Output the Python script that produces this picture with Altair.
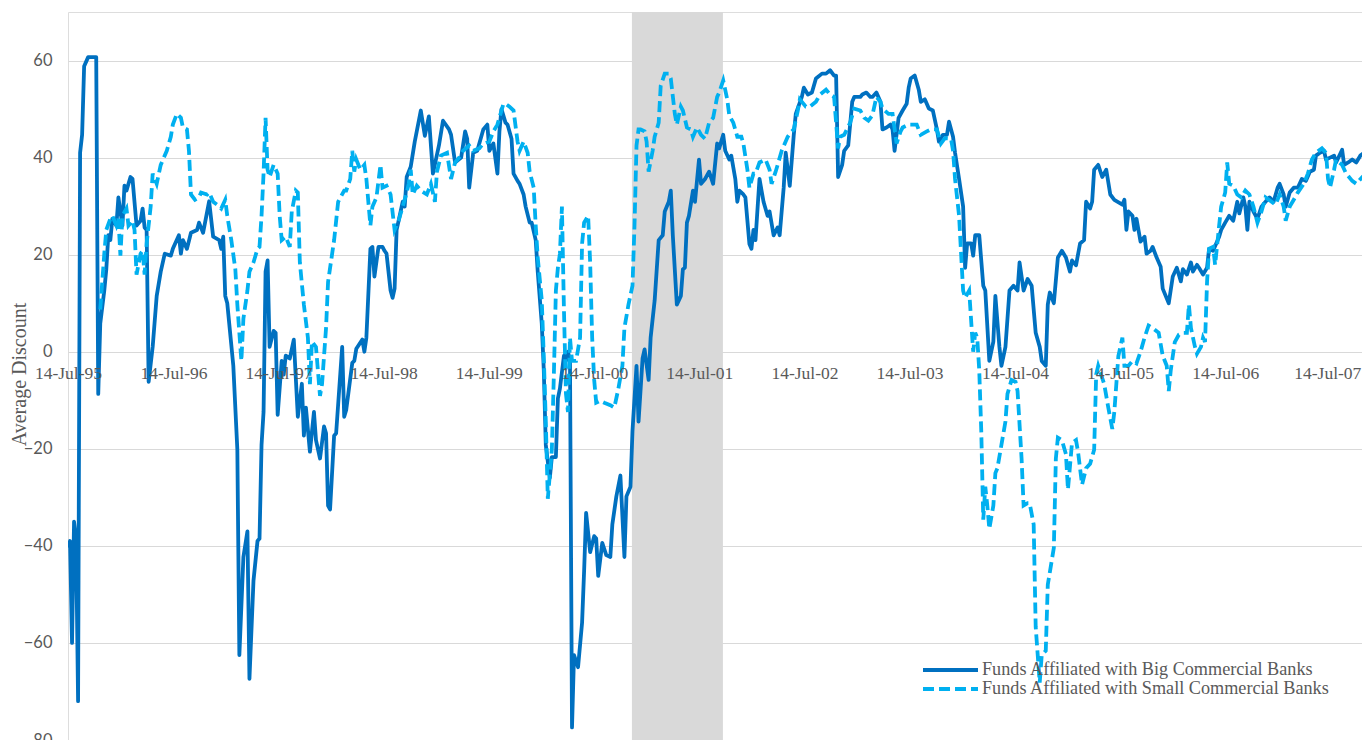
import altair as alt
import pandas as pd

# ---------------- data (weeks since 14-Jul-1995, average discount) ----------------
start_date = "1995-07-14"
axis_end_date = "2007-11-01"
recession_start = "2000-11-22"
recession_end = "2001-10-04"

big_name = "Funds Affiliated with Big Commercial Banks"
small_name = "Funds Affiliated with Small Commercial Banks"

big_weeks = [
    0, 1, 2, 3, 4, 5, 6, 7, 8, 10,
    14, 15, 16, 18, 19, 20, 21, 22, 24, 25,
    27, 28, 29, 31, 32, 34, 36, 37, 38, 39,
    40, 42, 44, 46, 48, 51, 52, 55, 56, 57,
    59, 61, 64, 65, 67, 70, 72, 75, 76, 77,
    78, 79, 81, 82, 84, 85, 87, 89, 90, 92,
    94, 95, 96, 97, 98, 99, 100, 102, 103, 104,
    106, 107, 108, 110, 112, 114, 116, 117, 118, 120,
    122, 123, 125, 127, 128, 129, 130, 132, 133, 136,
    137, 138, 141, 142, 143, 146, 147, 148, 150, 151,
    152, 154, 156, 157, 158, 160, 161, 162, 163, 165,
    166, 167, 168, 170, 172, 175, 177, 179, 181, 184,
    186, 189, 190, 192, 195, 197, 198, 199, 201, 203,
    206, 208, 209, 211, 213, 214, 215, 217, 218, 220,
    221, 223, 224, 226, 227, 229, 230, 232, 233, 235,
    236, 237, 239, 240, 242, 243, 244, 246, 247, 248,
    249, 250, 251, 253, 255, 256, 257, 259, 261, 262,
    263, 265, 267, 269, 270, 272, 274, 276, 277, 279,
    280, 282, 283, 285, 286, 288, 289, 291, 293, 295,
    296, 298, 299, 300, 302, 304, 305, 306, 307, 308,
    310, 311, 313, 314, 316, 318, 320, 322, 323, 325,
    326, 328, 329, 331, 332, 333, 335, 336, 338, 339,
    340, 341, 343, 345, 347, 348, 350, 352, 353, 355,
    356, 358, 360, 361, 364, 365, 367, 369, 371, 374,
    376, 378, 380, 381, 382, 384, 385, 387, 389, 390,
    393, 394, 396, 398, 399, 401, 403, 404, 406, 408,
    409, 410, 412, 414, 416, 417, 418, 420, 422, 423,
    425, 427, 429, 431, 432, 434, 436, 437, 439, 440,
    442, 444, 445, 446, 448, 449, 450, 452, 454, 455,
    457, 459, 460, 462, 463, 465, 467, 469, 471, 472,
    474, 476, 478, 480, 482, 483, 485, 486, 487, 489,
    491, 493, 495, 497, 498, 500, 502, 504, 505, 507,
    508, 509, 511, 513, 515, 517, 519, 523, 524, 525,
    526, 528, 529, 530, 532, 534, 535, 537, 538, 540,
    542, 543, 546, 548, 550, 552, 553, 555, 557, 558,
    560, 561, 563, 565, 566, 568, 571, 572, 574, 576,
    578, 580, 581, 583, 584, 585, 586, 588, 590, 592,
    594, 596, 598, 600, 601, 603, 604, 606, 608, 610,
    612, 614, 616, 618, 619, 621, 623, 624, 626, 628,
    629, 632, 633, 635, 637, 639, 641, 643, 645, 646,
]
big_values = [
    -40.4, -39, -60, -35, -38.5, -72, 41, 44.7, 58.8, 60.7,
    60.7, -8.7, 5.8, 12.6, 17, 24, 23, 27.4, 26, 31.8,
    26, 34.2, 33.2, 36, 35.6, 26, 27, 29.5, 25.6, 25.1,
    -6.2, 1, 11.5, 16.5, 20.2, 19.8, 21.2, 24, 20.2, 23,
    21.2, 24.5, 25.1, 26.6, 24.5, 31, 23.7, 23, 21.2, 23.7,
    11.5, 10, 1.4, -2.9, -20.2, -62.5, -42.3, -37, -67.4, -47.2,
    -39, -38.5, -19.2, -12.4, 16.5, 18.8, 1, 4.3, 3.9, -13,
    -1.9, -4.7, -0.8, -1.4, 2.5, -13.4, -6.6, -17.3, -11.5, -20.6,
    -12.4, -18.2, -22, -15.4, -16.8, -31.7, -32.5, -17.3, -16.8, 1,
    -13.4, -12, -2.3, -1.9, 0.6, 2.5, 0, 2.9, 21.2, 21.6,
    15.5, 21.6, 21.6, 20.8, 20.2, 12.6, 11.1, 13, 25.1, 28.9,
    30.9, 29.9, 36, 38.1, 43.3, 49.7, 44.5, 48.5, 36.7, 42.5,
    47.6, 45.8, 44.7, 39, 40, 45.4, 43.9, 33.8, 41, 41.4,
    45.8, 46.8, 41.4, 42.9, 36.7, 45.4, 50, 47.2, 46.8, 43.9,
    36.7, 35.2, 34.6, 32.4, 29.9, 26.6, 26.6, 23, 16.5, 5.8,
    -3.8, -19.2, -26, -21.7, -21.7, -9.6, -7.6, -0.8, -1.9, 0,
    -1.9, -77.4, -62.5, -65, -55.8, -45.2, -33.2, -41.3, -38, -38.5,
    -46.2, -39.4, -41.9, -42.3, -35.6, -29.8, -25.5, -42.3, -29.8, -27.8,
    -16.3, -2.9, -14.4, -1.4, 0.5, -5.8, 2.9, 10.6, 23, 24,
    28.9, 30.9, 33.2, 24, 9.7, 11.5, 17, 17.3, 26.6, 28,
    33.2, 30.9, 39.6, 34.6, 35.6, 37.1, 34.6, 42.9, 41.9, 44.7,
    41.4, 39.6, 40.4, 35.6, 30.9, 33.2, 32.4, 31.8, 22.2, 21.2,
    25.1, 23, 35.6, 30.9, 28, 28.9, 24, 25.6, 24, 33.8,
    41, 34.2, 44.7, 49, 52.5, 54.4, 53, 53.4, 56.3, 57.3,
    57.3, 58, 56.9, 56.9, 36, 38.5, 41.4, 42.5, 51.5, 52.5,
    52.5, 53, 53.4, 52.5, 52.5, 53.4, 51.5, 45.8, 46.2, 46.8,
    45.8, 41.4, 48.2, 49.7, 51.1, 54.4, 56.3, 56.9, 54, 51.5,
    52, 50.1, 49.7, 45.8, 43.3, 44.7, 44.7, 47.4, 44.3, 41,
    35.6, 29.9, 17.3, 22.3, 22.3, 19.8, 24, 24, 13.6, 12.6,
    -1.9, 2.1, 11.5, 1, -2.9, 1, 12.6, 13.6, 12.6, 18.4,
    12.6, 15, 13.6, 3.9, 1, -1.9, -2.9, 9.7, 12.2, 10,
    19.4, 20.8, 19.4, 16.5, 18.8, 17.8, 22.3, 23, 30.9, 29.5,
    30.9, 37.5, 38.5, 36, 37.5, 32.4, 31.3, 30.3, 31.3, 25.1,
    28.9, 28, 25.1, 27.4, 22.7, 23.7, 20.2, 20.8, 21.6, 19.4,
    17.5, 13, 10, 15.5, 17.3, 14.5, 17, 15.9, 18.4, 16.5,
    17.9, 17.3, 15.9, 17.3, 21.2, 20.8, 23.7, 25.1, 26.6, 28,
    27, 30.9, 28.5, 31.8, 29.9, 25.1, 30.9, 28.9, 27.4, 29.9,
    30.9, 31.8, 30.9, 33.8, 34.6, 32.4, 29.9, 32.8, 33.8, 33.8,
    35.6, 35.2, 37.1, 37.5, 40.4, 41, 41.4, 39.6, 40, 40.4,
    39, 41.6, 38.5, 39, 39.6, 39, 40.4, 41, 42.5, 43,
]

small_weeks = [
    16, 18, 19, 21, 22, 24, 25, 26, 27, 29,
    30, 32, 33, 34, 36, 37, 38, 39, 41, 42,
    44, 46, 49, 51, 52, 54, 56, 57, 59, 60,
    61, 63, 65, 66, 69, 70, 72, 74, 76, 78,
    79, 81, 83, 84, 86, 87, 89, 90, 92, 94,
    95, 96, 97, 98, 99, 100, 102, 104, 105, 106,
    108, 110, 111, 113, 114, 115, 117, 119, 120, 121,
    123, 125, 126, 128, 129, 132, 134, 137, 138, 140,
    141, 142, 143, 145, 147, 148, 150, 151, 153, 155,
    156, 158, 160, 162, 164, 166, 168, 169, 170, 171,
    173, 175, 178, 180, 182, 183, 185, 188, 190, 192,
    194, 196, 199, 201, 204, 206, 209, 211, 213, 216,
    217, 219, 221, 223, 224, 226, 228, 229, 231, 232,
    233, 235, 236, 237, 238, 240, 241, 242, 243, 244,
    245, 246, 247, 248, 249, 250, 252, 254, 255, 256,
    258, 259, 260, 261, 262, 264, 266, 269, 271, 273,
    275, 276, 278, 280, 281, 282, 283, 284, 286, 287,
    288, 290, 291, 293, 294, 296, 298, 299, 301, 302,
    304, 305, 307, 309, 310, 312, 314, 316, 318, 320,
    322, 323, 325, 327, 328, 330, 332, 334, 335, 337,
    338, 340, 341, 343, 346, 348, 349, 351, 352, 354,
    357, 359, 360, 362, 363, 366, 368, 371, 373, 376,
    378, 380, 382, 383, 385, 388, 390, 393, 395, 397,
    399, 401, 403, 404, 407, 409, 411, 413, 414, 417,
    419, 421, 423, 426, 428, 431, 433, 435, 438, 439,
    440, 442, 443, 444, 445, 447, 449, 450, 451, 452,
    453, 454, 455, 456, 457, 459, 460, 461, 463, 465,
    466, 468, 470, 471, 473, 474, 476, 477, 479, 480,
    482, 483, 485, 486, 489, 490, 491, 493, 495, 496,
    498, 500, 501, 503, 505, 507, 509, 510, 511, 514,
    516, 518, 519, 521, 523, 524, 526, 528, 530, 532,
    534, 536, 538, 541, 543, 545, 546, 547, 549, 551,
    553, 555, 556, 557, 559, 560, 562, 563, 564, 565,
    566, 568, 569, 571, 572, 574, 575, 576, 578, 580,
    582, 584, 586, 588, 590, 592, 594, 597, 599, 601,
    603, 604, 606, 608, 610, 613, 615, 617, 619, 622,
    624, 625, 626, 628, 629, 632, 634, 637, 639, 642,
    644, 646,
]
small_values = [
    8.7, 20.2, 25.1, 27.4, 28, 26, 27.4, 19.8, 28, 29.5,
    26, 27, 25.1, 15.9, 20.2, 20.8, 15.9, 22.3, 29.9, 36.7,
    34.6, 38.5, 41.4, 44.3, 46.8, 49, 48.2, 46.2, 45.8, 41.4,
    32.4, 31.3, 31.8, 32.8, 32.4, 32.8, 30.9, 30.3, 29.5, 31.3,
    28, 23, 17, 9.7, -1.9, 6.8, 12.6, 16.5, 18.4, 21.2,
    21.6, 28, 36.7, 48.2, 37.5, 36, 38.5, 36.7, 28, 23,
    23.7, 21.6, 28.9, 33.2, 32.8, 18.4, 9.7, 2.9, -6.7, 2.1,
    1, -9.1, -6.7, 4.9, 14.4, 23, 30.9, 33.2, 33.2, 35.6,
    41.4, 37.1, 39.6, 37.5, 38.5, 35.6, 26, 29.9, 31.8, 38.5,
    33.8, 34.2, 32.4, 25.1, 27, 29.9, 32.8, 34.6, 37.5, 32.4,
    34.2, 33.2, 32.4, 34.6, 30.9, 37.1, 40.4, 41, 35.6, 39,
    40, 41.4, 42.5, 41.4, 41.9, 42.9, 43.3, 45.4, 46.8, 51.1,
    51.1, 50.5, 49.7, 43.3, 41.4, 43.3, 41, 37.1, 33.8, 26,
    19.4, 10.6, -0.9, -14.4, -30.3, -20.2, -4.7, 12.6, 17.3, 20.2,
    29.9, 8.7, -8.7, -12.4, 2.9, -1.9, -1.9, 2.9, 22.3, 26.6,
    28, 18.4, 2.9, -5.8, -10.5, -10.1, -10.5, -11, -11.5, -7.6,
    -2.9, 4.9, 9.7, 13.6, 26, 42.5, 45.8, 45.8, 45.4, 43.3,
    37.1, 41.4, 44.3, 47.2, 54.8, 57.3, 57.3, 56.3, 49, 46.8,
    50.5, 49.7, 46.2, 45.8, 44.3, 46.2, 44.7, 43.9, 47.2, 48.2,
    52.5, 53.4, 55.9, 52, 48.7, 47.2, 44.3, 44.3, 42.9, 37.5,
    33.8, 36.7, 36.7, 39, 39.6, 37.5, 34.6, 37.1, 38.5, 41.4,
    44.3, 45.4, 45.8, 49.7, 52, 50.5, 50.5, 51.5, 53, 54,
    53, 52.5, 41.9, 44.3, 44.7, 47.2, 50.1, 49.7, 48.2, 47.6,
    48.7, 52.5, 51.5, 50.1, 49, 49, 42.9, 45.4, 46.2, 46.8,
    46.8, 46.8, 44.7, 45.4, 45.8, 45.8, 42.9, 44, 43.9, 41.4,
    35.6, 28, 20.2, 12.6, 11.1, 12.6, 0, 3.9, 2.9, -3.8,
    -16.3, -34.6, -27.8, -31.7, -36.5, -31.7, -25, -24, -19.2, -14.4,
    -8.7, -5.8, -6.2, -8.1, -22, -31.7, -31.2, -31.2, -35.6, -56.7,
    -68.2, -62.5, -61.6, -48, -40.4, -22, -17.7, -18.2, -21.1, -28.4,
    -18.8, -18.2, -20.6, -27.4, -24, -23.1, -20.2, -4.7, -2.9, -6.7,
    -11.5, -15.9, -12.4, -0.9, 2.9, -2.9, -2.9, -1.9, -2.4, 0,
    2.9, 5.4, 4.9, 3.9, -0.8, -2.9, -8.1, -3.8, 2, 3.5,
    3.9, 3.9, 9.7, 4.9, 1, -0.4, 1, 2.9, 2, 14.4,
    21.2, 21.6, 17.9, 26, 29.9, 32.8, 39, 34.6, 34.2, 32.4,
    31.8, 33.2, 32.4, 29.9, 26.6, 28.9, 31.8, 30.9, 30.3, 32.4,
    29.9, 27, 29.9, 31.3, 32.8, 34.6, 36.7, 39.6, 41, 41.9,
    41, 35.6, 33.8, 37.5, 39.6, 38.5, 36.7, 35.2, 34.6, 36,
    36.7, 37.1,
]

y_ticks = [-80, -60, -40, -20, 0, 20, 40, 60]
label_years = list(range(1995, 2008))
last_label = "14-Jul-07"

# ---------------- styling ----------------
BIG_COLOR = "#0070C0"
SMALL_COLOR = "#00B0F0"
TEXT_COLOR = "#595959"
GRID_COLOR = "#D9D9D9"
SHADE_COLOR = "#D9D9D9"
SERIF = "Liberation Serif"
LINE_W = 3.8
DASH = [11, 5]

PLOT_W = 1294
PLOT_H = 728


def weeks_to_dates(weeks):
    base = pd.Timestamp(start_date)
    return [(base + pd.Timedelta(days=7 * w)).strftime("%Y-%m-%d") for w in weeks]


big_df = pd.DataFrame({"date": weeks_to_dates(big_weeks), "value": big_values})
small_df = pd.DataFrame({"date": weeks_to_dates(small_weeks), "value": small_values})
shade_df = pd.DataFrame({"start": [recession_start], "end": [recession_end]})

s = pd.Timestamp(start_date)
e = pd.Timestamp(axis_end_date)
x_scale = alt.Scale(
    type="utc",
    domain=[
        alt.DateTime(year=s.year, month=s.month, date=s.day, utc=True),
        alt.DateTime(year=e.year, month=e.month, date=e.day, utc=True),
    ],
)
y_scale = alt.Scale(domain=[-80, 70], nice=False, zero=False)

x_axis = alt.Axis(
    values=[alt.DateTime(year=y, month=7, date=14, utc=True) for y in label_years],
    format="%d-%b-%y",
    title=None,
    grid=False,
    domain=False,
    ticks=False,
    offset=-388.3,
    labelPadding=13,
    labelFont=SERIF,
    labelFontSize=17.5,
    labelColor=TEXT_COLOR,
    labelFlush=False,
    labelOverlap=False,
    labelBound=False,
    labelOffset={"condition": {"test": f"datum.label == '{last_label}'", "value": -3}, "value": 0},
    zindex=1,
)
y_axis = alt.Axis(
    values=y_ticks,
    title="Average Discount",
    grid=True,
    gridColor=GRID_COLOR,
    gridWidth=1.2,
    domain=False,
    ticks=False,
    labelPadding=16,
    labelFont="Lato",
    labelFontSize=16.5,
    labelColor=TEXT_COLOR,
    titleFont=SERIF,
    titleFontSize=20,
    titleFontWeight="normal",
    titleColor=TEXT_COLOR,
    titleAngle=270,
    titleAlign="center",
    titleBaseline="alphabetic",
    titleX=-43,
    titleY=362,
)

shade = alt.Chart(shade_df).mark_rect(color=SHADE_COLOR, opacity=1).encode(
    x=alt.X("start:T", scale=x_scale, axis=x_axis),
    x2="end:T",
)

big_line = alt.Chart(big_df).mark_line(
    color=BIG_COLOR, strokeWidth=LINE_W, strokeJoin="round", clip=True
).encode(
    x=alt.X("date:T", scale=x_scale, axis=x_axis),
    y=alt.Y("value:Q", scale=y_scale, axis=y_axis),
)

small_line = alt.Chart(small_df).mark_line(
    color=SMALL_COLOR, strokeWidth=LINE_W, strokeDash=DASH, clip=True
).encode(
    x=alt.X("date:T", scale=x_scale, axis=x_axis),
    y=alt.Y("value:Q", scale=y_scale, axis=y_axis),
)

# manual legend (bottom right, inside the plot)
leg_df_big = pd.DataFrame({"label": [big_name]})
leg_df_small = pd.DataFrame({"label": [small_name]})

leg_big_sym = alt.Chart(leg_df_big).mark_rule(color=BIG_COLOR, strokeWidth=LINE_W).encode(
    x=alt.value(855), x2=alt.value(910), y=alt.value(658)
)
leg_small_sym = alt.Chart(leg_df_small).mark_rule(
    color=SMALL_COLOR, strokeWidth=LINE_W, strokeDash=DASH
).encode(x=alt.value(855), x2=alt.value(910), y=alt.value(677))
leg_big_txt = alt.Chart(leg_df_big).mark_text(
    align="left", baseline="middle", font=SERIF, fontSize=18.2, color=TEXT_COLOR
).encode(x=alt.value(914), y=alt.value(658), text="label:N")
leg_small_txt = alt.Chart(leg_df_small).mark_text(
    align="left", baseline="middle", font=SERIF, fontSize=18.2, color=TEXT_COLOR
).encode(x=alt.value(914), y=alt.value(677), text="label:N")

chart = (
    alt.layer(
        shade, big_line, small_line,
        leg_big_sym, leg_small_sym, leg_big_txt, leg_small_txt,
    )
    .properties(
        width=PLOT_W,
        height=PLOT_H,
        autosize=alt.AutoSizeParams(type="none"),
        padding={"left": 60, "top": 4, "right": 0, "bottom": 0},
    )
    .configure_view(stroke="#C6C6C6", strokeWidth=1.5)
    .configure(background="white")
)

chart.save("out.html", embed_options={"renderer": "svg", "actions": False})
